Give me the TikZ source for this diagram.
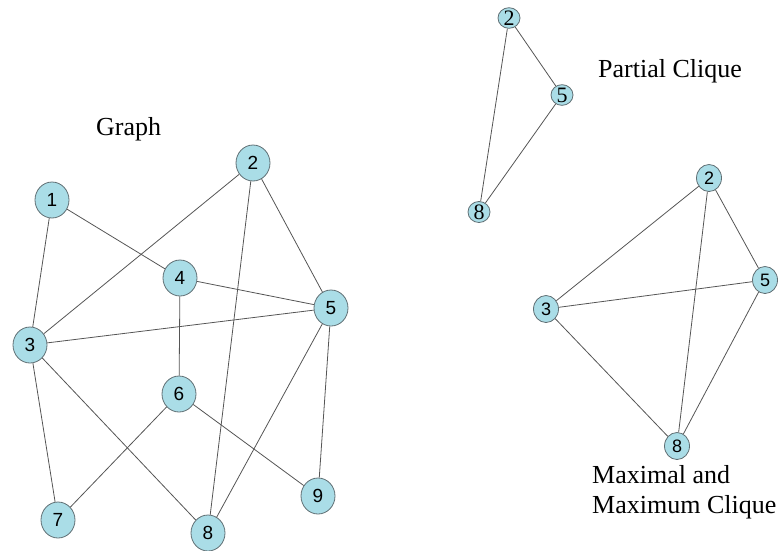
\documentclass[tikz,border=0pt]{standalone}
\usepackage{fontspec}
\setmainfont{Liberation Serif}
\newfontfamily\numfont{Liberation Sans}
\usetikzlibrary{shapes.geometric}
\definecolor{nodefill}{RGB}{170,221,231}
\definecolor{nodeedge}{RGB}{95,110,115}
\definecolor{edgecol}{RGB}{85,85,85}
\tikzset{
  big/.style={ellipse, draw=nodeedge, line width=0.8pt, fill=nodefill, minimum width=34pt, minimum height=36pt, inner sep=0pt, font=\numfont\fontsize{19}{19}\selectfont},
  med/.style={ellipse, draw=nodeedge, line width=0.8pt, fill=nodefill, minimum width=25pt, minimum height=27pt, inner sep=0pt, font=\numfont\fontsize{18}{18}\selectfont},
  sml/.style={ellipse, draw=nodeedge, line width=0.8pt, fill=nodefill, minimum width=22pt, minimum height=18pt, inner sep=0pt, font=\fontsize{22}{22}\selectfont},
  link/.style={draw=edgecol, line width=0.8pt},
  lbl/.style={font=\fontsize{26}{30}\selectfont, inner sep=0pt}
}
\begin{document}
\begin{tikzpicture}[x=1pt,y=-1pt]
\useasboundingbox (0,0) rectangle (778,550);
% main graph
\node[big] (g1) at (52,200) {1};
\node[big] (g2) at (253,163) {2};
\node[big] (g4) at (180,278) {4};
\node[big] (g5) at (331,308) {5};
\node[big] (g3) at (30,345) {3};
\node[big] (g6) at (179,394) {6};
\node[big] (g7) at (58,520) {7};
\node[big] (g8) at (208,533) {8};
\node[big] (g9) at (318,496) {9};
\draw[link] (g1) -- (g3);
\draw[link] (g1) -- (g4);
\draw[link] (g2) -- (g3);
\draw[link] (g2) -- (g8);
\draw[link] (g2) -- (g5);
\draw[link] (g4) -- (g5);
\draw[link] (g4) -- (g6);
\draw[link] (g3) -- (g5);
\draw[link] (g3) -- (g7);
\draw[link] (g3) -- (g8);
\draw[link] (g6) -- (g7);
\draw[link] (g6) -- (g9);
\draw[link] (g5) -- (g8);
\draw[link] (g5) -- (g9);
% partial clique
\node[sml] (p2) at (509,18) {2};
\node[sml] (p5) at (562,95) {5};
\node[sml] (p8) at (479,212) {8};
\draw[link] (p2) -- (p5);
\draw[link] (p2) -- (p8);
\draw[link] (p5) -- (p8);
% maximal clique
\node[med] (m2) at (709,178) {2};
\node[med] (m5) at (765,280) {5};
\node[med] (m3) at (546,309) {3};
\node[med] (m8) at (677,446) {8};
\draw[link] (m2) -- (m3);
\draw[link] (m2) -- (m8);
\draw[link] (m2) -- (m5);
\draw[link] (m3) -- (m5);
\draw[link] (m3) -- (m8);
\draw[link] (m5) -- (m8);
% labels
\node[lbl, anchor=base west] (tg) at (96,135) {Graph};
\node[lbl, anchor=base west] (tp) at (598,77) {Partial Clique};
\node[lbl, anchor=base west] (tm1) at (592,483) {Maximal and};
\node[lbl, anchor=base west] (tm2) at (592,513) {Maximum Clique};
\end{tikzpicture}
\end{document}
